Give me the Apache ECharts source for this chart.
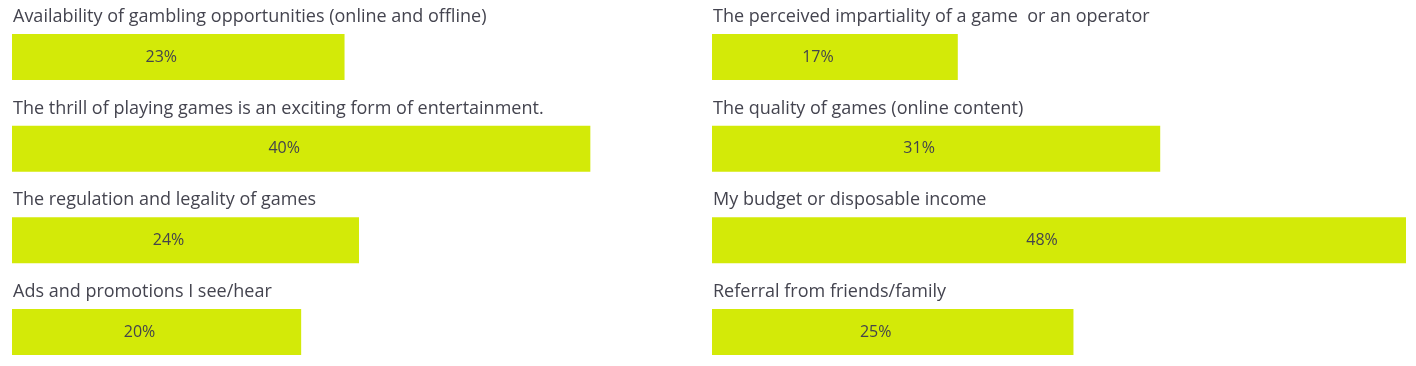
<!DOCTYPE html>
<html><head><meta charset="utf-8">
<script src="https://cdn.jsdelivr.net/npm/echarts@6/dist/echarts.min.js"></script>
<style>html,body{margin:0;padding:0;background:#fff}#c{width:1416px;height:366px}</style>
</head><body><div id="c"></div>
<script>
const leftCategories = [
  "Availability of gambling opportunities (online and offline)",
  "The thrill of playing games is an exciting form of entertainment.",
  "The regulation and legality of games",
  "Ads and promotions I see/hear"
];
const leftValues = [23, 40, 24, 20];
const rightCategories = [
  "The perceived impartiality of a game  or an operator",
  "The quality of games (online content)",
  "My budget or disposable income",
  "Referral from friends/family"
];
const rightValues = [17, 31, 48, 25];

const FONT = "'Open Sans', sans-serif";
const BAR = '#d3ea08';
const chart = echarts.init(document.getElementById('c'), null, {renderer: 'canvas'});

function grids(left) {
  return {left: left, width: 694, top: 57, height: 275, containLabel: false};
}
function xAx(i) {
  return {gridIndex: i, type: 'value', min: 0, max: 48, show: false};
}
function yAx(i, cats) {
  return {gridIndex: i, type: 'category', data: cats, inverse: true, boundaryGap: false, show: false};
}
function valSeries(i, vals) {
  return {
    type: 'bar', xAxisIndex: i, yAxisIndex: i, data: vals, barWidth: 46,
    itemStyle: {color: BAR}, silent: true,
    label: {show: true, position: 'inside', offset: [-17, 0], formatter: '{c}%',
      color: '#44444c', fontSize: 16, fontFamily: FONT}
  };
}
function catSeries(i, vals, cats) {
  return {
    type: 'bar', xAxisIndex: i, yAxisIndex: i, data: vals, barWidth: 46, barGap: '-100%',
    itemStyle: {color: 'rgba(0,0,0,0)'}, silent: true,
    label: {show: true, position: [1, -17], verticalAlign: 'middle', align: 'left',
      formatter: p => cats[p.dataIndex],
      color: '#44444f', fontSize: 18, fontFamily: FONT}
  };
}
chart.setOption({
  animation: false,
  grid: [grids(12), grids(712)],
  xAxis: [xAx(0), xAx(1)],
  yAxis: [yAx(0, leftCategories), yAx(1, rightCategories)],
  series: [
    valSeries(0, leftValues), catSeries(0, leftValues, leftCategories),
    valSeries(1, rightValues), catSeries(1, rightValues, rightCategories)
  ]
});
</script></body></html>
